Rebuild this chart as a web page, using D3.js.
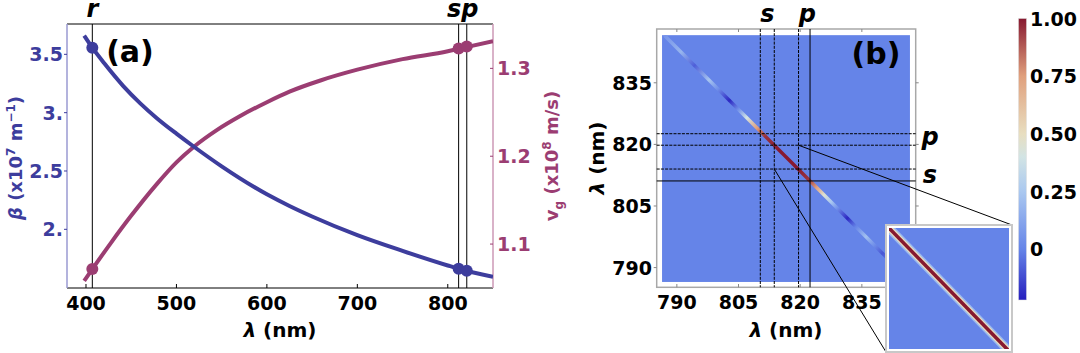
<!DOCTYPE html>
<html>
<head>
<meta charset="utf-8">
<script src="https://cdn.jsdelivr.net/npm/d3@7"></script>
<style>
  body { margin: 0; background: #fff; }
  text { font-family: "DejaVu Sans", sans-serif; font-weight: bold; }
</style>
</head>
<body>
<script>
// panel (a): propagation constant and group velocity vs wavelength
var lambdaB = [398, 407, 420, 441, 460, 478, 500, 519, 550, 600, 625, 650, 700, 750, 800, 813, 850];
var beta    = [3.66, 3.557, 3.425, 3.23, 3.08, 2.955, 2.82, 2.71, 2.54, 2.30, 2.20, 2.11, 1.95, 1.815, 1.69, 1.66, 1.594];
var lambdaV = [398, 407, 428, 449, 478, 500, 519, 545, 570, 600, 625, 660, 700, 750, 800, 813, 850];
var vg      = [1.058, 1.0715, 1.102, 1.131, 1.168, 1.193, 1.2105, 1.23, 1.2455, 1.2615, 1.2735, 1.2865, 1.2985, 1.3105, 1.3195, 1.3225, 1.331];

var markLambda = [407, 812, 821];
var betaMarks  = [3.557, 1.662, 1.645];
var vgMarks    = [1.0715, 1.3225, 1.325];

var xTicksA     = [400, 500, 600, 700, 800];
var betaTicks   = [2, 2.5, 3, 3.5];
var betaLabels  = ["2.", "2.5", "3.", "3.5"];
var vgTicks     = [1.1, 1.2, 1.3];

// panel (b): joint spectral map
var sLinesX = [810.3, 813.7];
var pLinesX = [819.6, 822.4];
var sLinesY = [811.1, 814.0];
var pLinesY = [819.8, 822.6];
var diagLambda = [787, 791, 794.3, 797.8, 800, 802.8, 805, 807, 809.5, 811.5, 815, 819, 822, 824, 825.8, 827.5, 829, 831.5, 833.5, 836, 838, 840, 842, 846.5];
var diagValue  = [0.06, 0.18, -0.08, 0.24, 0.04, -0.2, 0.05, 0.4, 0.75, 0.95, 1.0, 1.0, 0.95, 0.75, 0.45, 0.25, 0.05, -0.2, 0.0, 0.22, 0.04, -0.1, 0.0, 0.0];
var diagSum = 1633.5;
var heatTicks = [790, 805, 820, 835];
var zoomX = [813.7, 819.6];
var zoomY = [814.0, 819.8];

// colour bar
var cbTicks  = [0, 0.25, 0.5, 0.75, 1];
var cbLabels = ["0", "0.25", "0.50", "0.75", "1.00"];
var cbStops  = [-0.22, 0, 0.25, 0.4, 0.5, 0.75, 1];
var cbColors = ["#261ebe", "#6584e8", "#aac8f0", "#d2e4e4", "#e8dec0", "#e0a07d", "#871930"];

var blue = "#3d3d9d", mag = "#9b3d72";

var svg = d3.select("body").append("svg")
  .attr("width", 1080).attr("height", 353);
var defs = svg.append("defs");

// ---------- panel (a) ----------
var xA = d3.scaleLinear().domain([379, 850]).range([67, 493]);
var yB = d3.scaleLinear().domain([1.497, 3.76]).range([288, 24]);
var yV = d3.scaleLinear().domain([1.05, 1.3505]).range([288, 24]);

var gA = svg.append("g");

// frame
gA.append("line").attr("x1", 67).attr("x2", 493).attr("y1", 24).attr("y2", 24).attr("stroke", "#000");
gA.append("line").attr("x1", 67).attr("x2", 493).attr("y1", 288).attr("y2", 288).attr("stroke", "#000");
gA.append("line").attr("x1", 67).attr("x2", 67).attr("y1", 24).attr("y2", 288).attr("stroke", "#9a9ad2").attr("stroke-width", 1.5);
gA.append("line").attr("x1", 493).attr("x2", 493).attr("y1", 24).attr("y2", 288).attr("stroke", "#cc98b6").attr("stroke-width", 1.5);

// x ticks
xTicksA.forEach(function(t) {
  gA.append("line").attr("x1", xA(t)).attr("x2", xA(t)).attr("y1", 288).attr("y2", 284).attr("stroke", "#000");
  gA.append("text").attr("x", xA(t)).attr("y", 310).attr("text-anchor", "middle")
    .attr("font-size", 19).text(t);
});
gA.append("text").attr("x", 280).attr("y", 337).attr("text-anchor", "middle").attr("font-size", 20)
  .html('<tspan font-style="italic">λ</tspan> (nm)');

// left ticks
betaTicks.forEach(function(t, i) {
  gA.append("line").attr("x1", 64).attr("x2", 67).attr("y1", yB(t)).attr("y2", yB(t)).attr("stroke", blue);
  gA.append("text").attr("x", 63).attr("y", yB(t) + 7).attr("text-anchor", "end")
    .attr("font-size", 19).attr("fill", blue).text(betaLabels[i]);
});
gA.append("text").attr("transform", "translate(22,158) rotate(-90)").attr("text-anchor", "middle")
  .attr("font-size", 18).attr("fill", blue)
  .html('<tspan font-style="italic">β</tspan> (x10<tspan dy="-7" font-size="12">7</tspan><tspan dy="7"> m</tspan><tspan dy="-7" font-size="12">−1</tspan><tspan dy="7">)</tspan>');

// right ticks
vgTicks.forEach(function(t) {
  gA.append("line").attr("x1", 490).attr("x2", 493).attr("y1", yV(t)).attr("y2", yV(t)).attr("stroke", mag);
  gA.append("text").attr("x", 497).attr("y", yV(t) + 7).attr("text-anchor", "start")
    .attr("font-size", 19).attr("fill", mag).text(t);
});
gA.append("text").attr("transform", "translate(558,156) rotate(-90)").attr("text-anchor", "middle")
  .attr("font-size", 18).attr("fill", mag)
  .html('v<tspan dy="5" font-size="12">g</tspan><tspan dy="-5"> (x10</tspan><tspan dy="-7" font-size="12">8</tspan><tspan dy="7"> m/s)</tspan>');

// marker lines
markLambda.forEach(function(l) {
  gA.append("line").attr("x1", xA(l)).attr("x2", xA(l)).attr("y1", 24).attr("y2", 288)
    .attr("stroke", "#000").attr("stroke-width", 1);
});

// curves
var clipA = defs.append("clipPath").attr("id", "clipA");
clipA.append("rect").attr("x", 67).attr("y", 24).attr("width", 426).attr("height", 264);

var lineB = d3.line().x(function(d) { return xA(d[0]); }).y(function(d) { return yB(d[1]); }).curve(d3.curveMonotoneX);
var lineV = d3.line().x(function(d) { return xA(d[0]); }).y(function(d) { return yV(d[1]); }).curve(d3.curveMonotoneX);

gA.append("path").attr("clip-path", "url(#clipA)")
  .datum(d3.zip(lambdaV, vg)).attr("d", lineV)
  .attr("fill", "none").attr("stroke", mag).attr("stroke-width", 4);
gA.append("path").attr("clip-path", "url(#clipA)")
  .datum(d3.zip(lambdaB, beta)).attr("d", lineB)
  .attr("fill", "none").attr("stroke", blue).attr("stroke-width", 4);

gA.selectAll(".dotB").data(d3.zip(markLambda, betaMarks)).enter().append("circle")
  .attr("cx", function(d) { return xA(d[0]); }).attr("cy", function(d) { return yB(d[1]); })
  .attr("r", 6).attr("fill", blue);
gA.selectAll(".dotV").data(d3.zip(markLambda, vgMarks)).enter().append("circle")
  .attr("cx", function(d) { return xA(d[0]); }).attr("cy", function(d) { return yV(d[1]); })
  .attr("r", 6).attr("fill", mag);

// labels
gA.append("text").attr("x", 130).attr("y", 62).attr("text-anchor", "middle").attr("font-size", 30).text("(a)");
gA.append("text").attr("x", xA(markLambda[0])).attr("y", 17).attr("text-anchor", "middle")
  .attr("font-size", 24).attr("font-style", "italic").text("r");
gA.append("text").attr("x", (xA(markLambda[1]) + xA(markLambda[2])) / 2).attr("y", 17).attr("text-anchor", "middle")
  .attr("font-size", 24).attr("font-style", "italic").text("sp");

// ---------- panel (b) ----------
var xH = d3.scaleLinear().domain([785.1, 848.1]).range([656.7, 915.7]);
var yH = d3.scaleLinear().domain([785.2, 848.1]).range([287.3, 29]);
var color = d3.scaleLinear().domain(cbStops).range(cbColors).interpolate(d3.interpolateRgb);

var gB = svg.append("g");
gB.append("rect").attr("x", 656.7).attr("y", 29).attr("width", 259).attr("height", 258.3)
  .attr("fill", "#fff").attr("stroke", "#a8a8a8").attr("stroke-width", 1.5);

var hx0 = xH(786.4), hx1 = xH(846.7), hy0 = yH(846.6), hy1 = yH(786.5);
gB.append("rect").attr("x", hx0).attr("y", hy0).attr("width", hx1 - hx0).attr("height", hy1 - hy0)
  .attr("fill", color(0));

var clipB = defs.append("clipPath").attr("id", "clipB");
clipB.append("rect").attr("x", hx0).attr("y", hy0).attr("width", hx1 - hx0).attr("height", hy1 - hy0);

// diagonal with gradient along it
var d0 = diagLambda[0], d1 = diagLambda[diagLambda.length - 1];
var grad = defs.append("linearGradient").attr("id", "diagGrad").attr("gradientUnits", "userSpaceOnUse")
  .attr("x1", xH(d0)).attr("y1", yH(diagSum - d0)).attr("x2", xH(d1)).attr("y2", yH(diagSum - d1));
diagLambda.forEach(function(l, i) {
  grad.append("stop").attr("offset", (l - d0) / (d1 - d0)).attr("stop-color", color(diagValue[i]));
});
gB.append("line").attr("clip-path", "url(#clipB)")
  .attr("x1", xH(d0)).attr("y1", yH(diagSum - d0)).attr("x2", xH(d1)).attr("y2", yH(diagSum - d1))
  .attr("stroke", "url(#diagGrad)").attr("stroke-width", 3.5);

// ticks
heatTicks.forEach(function(t) {
  gB.append("line").attr("x1", xH(t)).attr("x2", xH(t)).attr("y1", 287.3).attr("y2", 284).attr("stroke", "#888");
  gB.append("line").attr("x1", xH(t)).attr("x2", xH(t)).attr("y1", 29).attr("y2", 32).attr("stroke", "#888");
  gB.append("line").attr("y1", yH(t)).attr("y2", yH(t)).attr("x1", 653.7).attr("x2", 656.7).attr("stroke", "#888");
  gB.append("line").attr("y1", yH(t)).attr("y2", yH(t)).attr("x1", 915.7).attr("x2", 918.7).attr("stroke", "#888");
  gB.append("text").attr("x", xH(t)).attr("y", 309).attr("text-anchor", "middle").attr("font-size", 19).text(t);
  gB.append("text").attr("x", 652).attr("y", yH(t) + 7).attr("text-anchor", "end").attr("font-size", 19).text(t);
});
gB.append("text").attr("x", 786).attr("y", 337).attr("text-anchor", "middle").attr("font-size", 20)
  .html('<tspan font-style="italic">λ</tspan> (nm)');
gB.append("text").attr("transform", "translate(604,158) rotate(-90)").attr("text-anchor", "middle").attr("font-size", 20)
  .html('<tspan font-style="italic">λ</tspan> (nm)');

// s / p guide lines
sLinesX.concat(pLinesX).forEach(function(l, i) {
  gB.append("line").attr("x1", xH(l)).attr("x2", xH(l)).attr("y1", 29).attr("y2", 287.3)
    .attr("stroke", "#000").attr("stroke-width", 1).attr("stroke-dasharray", i === 3 ? null : "3,1.2");
});
sLinesY.concat(pLinesY).forEach(function(l, i) {
  gB.append("line").attr("y1", yH(l)).attr("y2", yH(l)).attr("x1", 656.7).attr("x2", 915.7)
    .attr("stroke", "#000").attr("stroke-width", 1).attr("stroke-dasharray", i === 0 ? null : "3,1.2");
});

gB.append("text").attr("x", xH(d3.mean(sLinesX))).attr("y", 22).attr("text-anchor", "middle")
  .attr("font-size", 24).attr("font-style", "italic").text("s");
gB.append("text").attr("x", xH(d3.mean(pLinesX)) + 3).attr("y", 22).attr("text-anchor", "middle")
  .attr("font-size", 24).attr("font-style", "italic").text("p");
gB.append("text").attr("x", 930).attr("y", yH(d3.mean(pLinesY)) + 6).attr("text-anchor", "middle")
  .attr("font-size", 24).attr("font-style", "italic").text("p");
gB.append("text").attr("x", 930).attr("y", yH(d3.mean(sLinesY)) + 8).attr("text-anchor", "middle")
  .attr("font-size", 24).attr("font-style", "italic").text("s");
gB.append("text").attr("x", 876).attr("y", 64).attr("text-anchor", "middle").attr("font-size", 30).text("(b)");

// zoom inset
var ix0 = 886, iy0 = 225, iw = 126, ih = 127;
gB.append("line").attr("x1", xH(zoomX[1])).attr("y1", yH(zoomY[1])).attr("x2", ix0 + iw).attr("y2", iy0)
  .attr("stroke", "#000").attr("stroke-width", 1);
gB.append("line").attr("x1", xH(zoomX[0])).attr("y1", yH(zoomY[0])).attr("x2", ix0).attr("y2", iy0 + ih)
  .attr("stroke", "#000").attr("stroke-width", 1);
gB.append("rect").attr("x", ix0).attr("y", iy0).attr("width", iw).attr("height", ih)
  .attr("fill", "#fff").attr("stroke", "#c8c8c8").attr("stroke-width", 2);
var xI = d3.scaleLinear().domain(zoomX).range([ix0 + 3, ix0 + iw - 3]);
var yI = d3.scaleLinear().domain(zoomY).range([iy0 + ih - 3, iy0 + 3]);
gB.append("rect").attr("x", ix0 + 3).attr("y", iy0 + 3).attr("width", iw - 6).attr("height", ih - 6).attr("fill", color(0));
var clipI = defs.append("clipPath").attr("id", "clipI");
clipI.append("rect").attr("x", ix0 + 3).attr("y", iy0 + 3).attr("width", iw - 6).attr("height", ih - 6);
[[9, 0.2], [6, 0.5], [3.5, 1]].forEach(function(s) {
  gB.append("line").attr("clip-path", "url(#clipI)")
    .attr("x1", xI(zoomX[0] - 1)).attr("y1", yI(diagSum - zoomX[0] + 1))
    .attr("x2", xI(zoomX[1] + 1)).attr("y2", yI(diagSum - zoomX[1] - 1))
    .attr("stroke", color(s[1])).attr("stroke-width", s[0]);
});

// ---------- colour bar ----------
var yC = d3.scaleLinear().domain([-0.22, 1]).range([300, 18.5]);
var cgrad = defs.append("linearGradient").attr("id", "cbGrad").attr("x1", 0).attr("y1", 1).attr("x2", 0).attr("y2", 0);
cbStops.forEach(function(v, i) {
  cgrad.append("stop").attr("offset", (v + 0.22) / 1.22).attr("stop-color", cbColors[i]);
});
svg.append("rect").attr("x", 1018.5).attr("y", yC(1)).attr("width", 8).attr("height", yC(-0.22) - yC(1))
  .attr("fill", "url(#cbGrad)").attr("stroke", "#ddd").attr("stroke-width", 0.5);
cbTicks.forEach(function(t, i) {
  svg.append("text").attr("x", 1030).attr("y", yC(t) + 7).attr("font-size", 19).text(cbLabels[i]);
});
</script>
</body>
</html>
